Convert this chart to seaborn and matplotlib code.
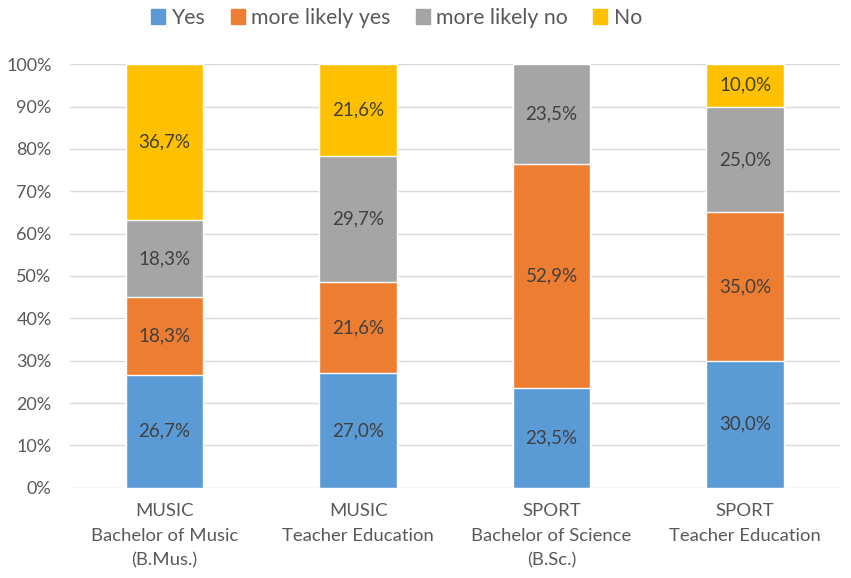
import matplotlib.pyplot as plt
import seaborn as sns
import numpy as np
import pandas as pd
from matplotlib.patches import Patch
from matplotlib.ticker import PercentFormatter

categories = [
    "MUSIC\nBachelor of Music\n(B.Mus.)",
    "MUSIC\nTeacher Education",
    "SPORT\nBachelor of Science\n(B.Sc.)",
    "SPORT\nTeacher Education",
]
yes = [26.7, 27.0, 23.5, 30.0]
likely_yes = [18.3, 21.6, 52.9, 35.0]
likely_no = [18.3, 29.7, 23.5, 25.0]
no = [36.7, 21.6, 0.0, 10.0]

series_names = ["Yes", "more likely yes", "more likely no", "No"]
colors = ["#5B9BD5", "#ED7D31", "#A5A5A5", "#FFC000"]

sns.set_style("white")
plt.rcParams["font.family"] = ["Lato", "DejaVu Sans"]

values = np.array([yes, likely_yes, likely_no, no])
# 100% stacked: scale each column to its own total
shares = values / values.sum(axis=0) * 100
tops = np.cumsum(shares, axis=0)

fig = plt.figure(figsize=(8.51, 5.78), dpi=100)
ax = fig.add_axes([0.082, 0.156, 0.905, 0.733])

# draw cumulative bars from the top series down so each one covers the next
for i in reversed(range(4)):
    df = pd.DataFrame({"cat": categories, "top": tops[i]})
    sns.barplot(data=df, x="cat", y="top", color=colors[i], width=0.4,
                saturation=1, ax=ax, zorder=2)

for i in range(4):
    for j in range(4):
        v = values[i, j]
        if v <= 0:
            continue
        mid = tops[i, j] - shares[i, j] / 2
        ax.text(j, mid, f"{v:.1f}%".replace(".", ","), ha="center",
                va="center", fontsize=13.5, color="#404040", zorder=3)

ax.set_ylim(0, 100)
ax.set_xlim(-0.49, 3.49)
ax.set_yticks(range(0, 101, 10))
ax.yaxis.set_major_formatter(PercentFormatter(decimals=0))
ax.grid(axis="y", color="#D9D9D9", linewidth=1, zorder=0)
ax.set_axisbelow(True)
for s in ax.spines.values():
    s.set_visible(False)
ax.set_xlabel("")
ax.set_ylabel("")
ax.tick_params(axis="both", length=0, labelsize=13, labelcolor="#595959")
ax.tick_params(axis="x", pad=11)
ax.tick_params(axis="y", pad=13)
ax.set_xticks(range(len(categories)))
ax.set_xticklabels(categories, fontsize=13.3, linespacing=1.65)

handles = [Patch(color=c, label=n) for c, n in zip(colors, series_names)]
fig.legend(handles=handles, loc="center", bbox_to_anchor=(0.466, 0.969),
           ncol=4, frameon=False, fontsize=15.3, handlelength=0.65,
           handleheight=0.65, handletextpad=0.3, columnspacing=1.2,
           labelcolor="#595959")

plt.savefig("out.png", dpi=100)
plt.close()
